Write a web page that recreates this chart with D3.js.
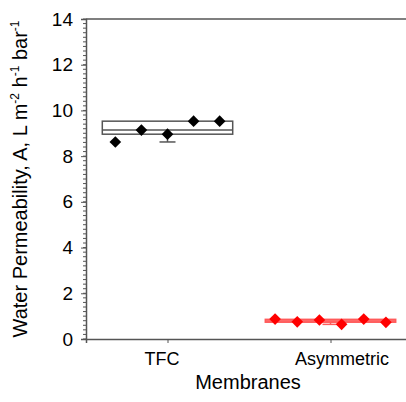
<!DOCTYPE html>
<html>
<head>
<meta charset="utf-8">
<script src="https://cdn.jsdelivr.net/npm/d3@7"></script>
<style>
  body { margin: 0; background: #fff; }
  text { font-family: "Liberation Sans", Arial, sans-serif; }
</style>
</head>
<body>
<div id="chart"></div>
<script>
const membranes = ["TFC", "Asymmetric"];
const tfcValues = [8.62, 9.14, 8.96, 9.53, 9.53];
const asymValues = [0.87, 0.75, 0.83, 0.64, 0.87, 0.73];
const yTicks = [0, 2, 4, 6, 8, 10, 12, 14];

const groups = [
  {name: "TFC", pos: 1, values: tfcValues, color: "#000", box: "#fff", line: "#555"},
  {name: "Asymmetric", pos: 2, values: asymValues, color: "#ff0000", box: "rgba(255,70,70,0.55)", line: "#ff5a5a"}
];

const W = 406, H = 402;
const svg = d3.select("#chart").append("svg")
  .attr("width", W).attr("height", H);

const x = d3.scaleLinear().domain([0.5, 2.5]).range([86, 412]);
const y = d3.scaleLinear().domain([0, 14]).range([339, 19]);

// minor ticks
const minor = d3.range(0, 14.01, 0.2);
svg.append("g").selectAll("line").data(minor).join("line")
  .attr("x1", 83).attr("x2", 86)
  .attr("y1", d => y(d)).attr("y2", d => y(d))
  .attr("stroke", "#555").attr("stroke-width", 1);

// y axis
const yAxis = svg.append("g")
  .attr("transform", "translate(86,0)")
  .call(d3.axisLeft(y).tickValues(yTicks).tickSize(5).tickPadding(8));
yAxis.select(".domain").attr("stroke", "#555").attr("stroke-width", 1.5);
yAxis.selectAll(".tick line").attr("stroke", "#555");
yAxis.selectAll("text").style("font-size", "19px").attr("fill", "#000");

// top line
svg.append("line")
  .attr("x1", 86).attr("x2", W).attr("y1", y(14)).attr("y2", y(14))
  .attr("stroke", "#555").attr("stroke-width", 1.5);

// x axis
const xAxis = svg.append("g")
  .attr("transform", `translate(0,${y(0)})`)
  .call(d3.axisBottom(x).tickValues([1, 2]).tickFormat(d => membranes[d - 1]).tickSize(4).tickPadding(9));
xAxis.select(".domain").attr("stroke", "#555").attr("stroke-width", 1.5);
xAxis.selectAll(".tick line").attr("stroke", "#555");
xAxis.selectAll("text").style("font-size", "18px").attr("fill", "#000")
  .attr("dx", d => d === 1 ? -6 : 11);

// box plots
const halfW = 0.4;
groups.forEach(g => {
  const s = g.values.slice().sort(d3.ascending);
  const q1 = d3.quantile(s, 0.25), med = d3.quantile(s, 0.5), q3 = d3.quantile(s, 0.75);
  const lo = s[0], hi = s[s.length - 1];
  const gg = svg.append("g");
  const cx = x(g.pos);
  // whiskers
  gg.append("line").attr("x1", cx).attr("x2", cx).attr("y1", y(q1)).attr("y2", y(lo))
    .attr("stroke", g.line).attr("stroke-width", 1.5);
  gg.append("line").attr("x1", cx - 8).attr("x2", cx + 8).attr("y1", y(lo)).attr("y2", y(lo))
    .attr("stroke", g.line).attr("stroke-width", 1.5);
  gg.append("line").attr("x1", cx).attr("x2", cx).attr("y1", y(q3)).attr("y2", y(hi))
    .attr("stroke", g.line).attr("stroke-width", 1.5);
  gg.append("rect")
    .attr("x", x(g.pos - halfW)).attr("width", x(g.pos + halfW) - x(g.pos - halfW))
    .attr("y", y(q3)).attr("height", y(q1) - y(q3))
    .attr("fill", g.box).attr("stroke", g.line).attr("stroke-width", 1.5);
  gg.append("line").attr("x1", x(g.pos - halfW)).attr("x2", x(g.pos + halfW))
    .attr("y1", y(med)).attr("y2", y(med))
    .attr("stroke", g.line).attr("stroke-width", 1.5);

  // points spread within the box
  const spread = g.values.length === 5 ? 0.32 : 0.34;
  const px = d3.scalePoint().domain(d3.range(g.values.length))
    .range([x(g.pos - spread), x(g.pos + spread)]);
  gg.selectAll("path.pt").data(g.values).join("path")
    .attr("class", "pt")
    .attr("d", d3.symbol(d3.symbolSquare, 68)())
    .attr("transform", (d, i) => `translate(${px(i)},${y(d)}) rotate(45)`)
    .attr("fill", g.color);
});

// axis titles
svg.append("text")
  .attr("x", 248).attr("y", 389)
  .attr("text-anchor", "middle")
  .style("font-size", "20px")
  .text("Membranes");

const yt = svg.append("text")
  .attr("transform", `translate(27,${(y(0) + y(14)) / 2}) rotate(-90)`)
  .attr("text-anchor", "middle")
  .style("font-size", "20px");
yt.append("tspan").text("Water Permeability, A, L m");
yt.append("tspan").attr("dy", -8).style("font-size", "12px").text("-2");
yt.append("tspan").attr("dy", 8).text(" h");
yt.append("tspan").attr("dy", -8).style("font-size", "12px").text("-1");
yt.append("tspan").attr("dy", 8).text(" bar");
yt.append("tspan").attr("dy", -8).style("font-size", "12px").text("-1");
</script>
</body>
</html>
